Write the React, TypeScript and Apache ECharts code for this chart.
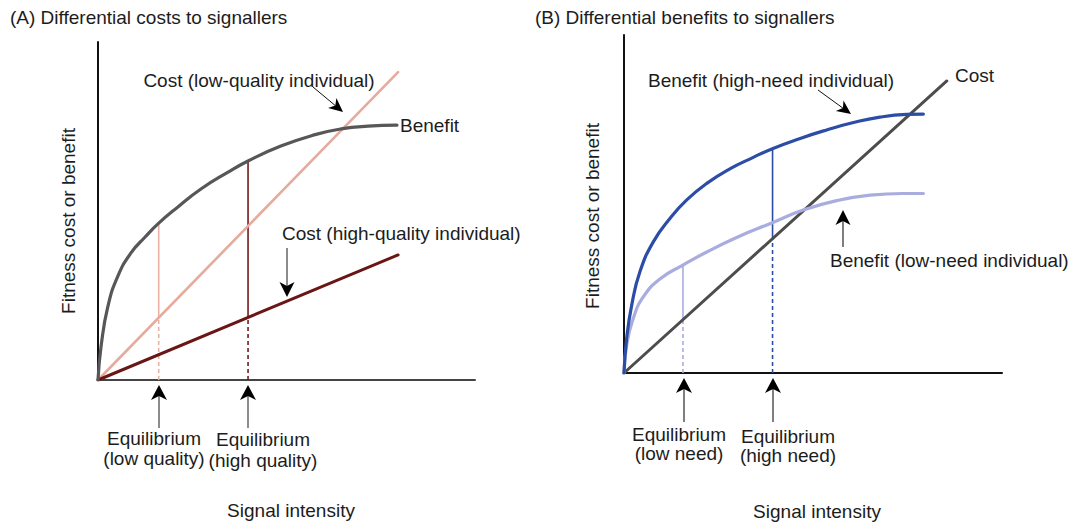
import React, { useEffect, useRef } from "react";
import * as echarts from "echarts";

// ---- Panel A data (signal intensity 0-100, fitness 0-100) ----
const benefitA: number[][] = [
  [0, 0], [0.8, 9.8], [2.65, 21.9], [5.3, 30.8], [8.75, 37.6], [12.5, 42.3], [15.9, 46.2],
  [21.2, 51.2], [27.3, 56.5], [34.5, 61.5], [39.8, 64.8], [48.5, 69.2], [57.6, 72.6],
  [64.5, 74.3], [71.6, 75.1], [79.3, 75.4],
];
const costLowQuality: number[][] = [[0, 0], [79.6, 91.1]];
const costHighQuality: number[][] = [[0, 0], [79.6, 37.0]];
// equilibrium: [signal, cost at signal, benefit at signal]
const eqLowQuality = [16.1, 18.5, 46.3];
const eqHighQuality = [39.8, 18.5, 64.8];

// ---- Panel B data ----
const benefitHighNeed: number[][] = [
  [0, 0], [0.71, 10.3], [2.04, 20.1], [4.23, 30.0], [7.75, 38.8], [12.2, 45.8], [16.6, 51.2],
  [21.9, 56.1], [28.0, 60.4], [34.2, 63.8], [39.1, 66.3], [46.6, 69.4], [53.6, 71.9],
  [60.7, 74.1], [67.7, 75.7], [74.8, 76.5], [79.2, 76.6],
];
const benefitLowNeed: number[][] = [
  [0, 0], [0.71, 8.3], [2.46, 16.2], [5.1, 22.5], [9.5, 27.8], [15.7, 32.0], [21.9, 35.8],
  [29.8, 40.1], [39.1, 44.4], [47.4, 48.2], [56.3, 51.0], [65.1, 52.6], [73.9, 53.1], [79.2, 53.1],
];
const costB: number[][] = [[0, 0], [85.4, 86.4]];
const eqLowNeed = [15.6, 15.8, 32.0];
const eqHighNeed = [39.3, 39.8, 66.4];

const FONT = "Liberation Sans, Arial, Helvetica, sans-serif";
const TXT = "#1c1c1c";

function text(str: string, x: number, y: number, align = "left", extra: any = {}, size = 19) {
  return {
    type: "text",
    x,
    y,
    ...extra,
    style: { text: str, fill: TXT, fontSize: size, fontFamily: FONT, align, verticalAlign: "middle" },
  };
}

function arrow(x1: number, y1: number, x2: number, y2: number, L = 14, w = 7, notch = 4, lineColor = "#333", lw = 1.3) {
  const dx = x2 - x1, dy = y2 - y1;
  const len = Math.hypot(dx, dy);
  const ux = dx / len, uy = dy / len;
  const nx = -uy, ny = ux;
  const bx = x2 - L * ux, by = y2 - L * uy;
  const mx = x2 - (L - notch) * ux, my = y2 - (L - notch) * uy;
  return [
    { type: "line", shape: { x1, y1, x2: mx, y2: my }, style: { stroke: lineColor, lineWidth: lw } },
    {
      type: "polygon",
      shape: { points: [[x2, y2], [bx + w * nx, by + w * ny], [mx, my], [bx - w * nx, by - w * ny]] },
      style: { fill: "#000" },
    },
  ];
}

function eqSeries(eq: number[], idx: number, color: string, w: number) {
  return [
    {
      type: "line", xAxisIndex: idx, yAxisIndex: idx, showSymbol: false, silent: true,
      data: [[eq[0], eq[1]], [eq[0], eq[2]]],
      lineStyle: { color, width: w },
    },
    {
      type: "line", xAxisIndex: idx, yAxisIndex: idx, showSymbol: false, silent: true,
      data: [[eq[0], 0], [eq[0], eq[1]]],
      lineStyle: { color, width: w, type: [4, 3] },
    },
  ];
}

function curve(data: number[][], idx: number, color: string, w: number, smooth = true) {
  return {
    type: "line", xAxisIndex: idx, yAxisIndex: idx, showSymbol: false, silent: true,
    data, smooth: smooth ? 0.5 : false,
    lineStyle: { color, width: w, cap: "round" },
  };
}

export default function App() {
  const ref = useRef<HTMLDivElement>(null);
  useEffect(() => {
    if (!ref.current) return;
    const chart = echarts.init(ref.current, null, { renderer: "svg" });
    const axisX = (gi: number, color: string) => ({
      type: "value", gridIndex: gi, min: 0, max: 100,
      axisLine: { show: true, lineStyle: { color, width: 2 } },
      axisTick: { show: false }, axisLabel: { show: false }, splitLine: { show: false },
    });
    const axisY = (gi: number, color: string) => ({
      type: "value", gridIndex: gi, min: 0, max: 100,
      axisLine: { show: true, lineStyle: { color, width: 2 } },
      axisTick: { show: false }, axisLabel: { show: false }, splitLine: { show: false },
    });
    const graphics: any[] = [
      text("(A) Differential costs to signallers", 10, 17),
      text("(B) Differential benefits to signallers", 535, 17),
      text("Fitness cost or benefit", 68, 221, "center", { rotation: Math.PI / 2 }),
      text("Fitness cost or benefit", 592, 216, "center", { rotation: Math.PI / 2 }),
      text("Signal intensity", 291, 510, "center"),
      text("Signal intensity", 817, 511, "center"),
      text("Cost (low-quality individual)", 259, 80, "center"),
      text("Benefit", 400, 125),
      text("Cost (high-quality individual)", 282, 233),
      text("Equilibrium", 154, 438, "center"),
      text("(low quality)", 154, 458, "center"),
      text("Equilibrium", 263, 439, "center"),
      text("(high quality)", 263, 460, "center"),
      text("Benefit (high-need individual)", 648, 80),
      text("Cost", 955, 75),
      text("Benefit (low-need individual)", 830, 260),
      text("Equilibrium", 679, 434, "center"),
      text("(low need)", 679, 453, "center"),
      text("Equilibrium", 788, 436, "center"),
      text("(high need)", 788, 455, "center"),
      ...arrow(313, 87, 343, 112, 14, 6.5, 4, "#111", 1),
      ...arrow(287, 248, 287, 297, 15, 7.5, 4, "#666", 1.5),
      ...arrow(159, 428, 159, 385, 15, 8, 4, "#666", 1.5),
      ...arrow(248, 428, 248, 385, 15, 8, 4, "#666", 1.5),
      ...arrow(818, 90, 851, 114, 14, 6.5, 4, "#111", 1),
      ...arrow(843, 247, 843, 210, 15, 7.5, 4, "#555", 1.5),
      ...arrow(684, 422, 684, 378, 15, 8, 4, "#555", 1.5),
      ...arrow(773, 422, 773, 378, 15, 8, 4, "#555", 1.5),
    ];
    chart.setOption({
      animation: false,
      grid: [
        { left: 98, top: 42, width: 377, height: 338 },
        { left: 624, top: 35, width: 378, height: 338 },
      ],
      xAxis: [axisX(0, "#444"), axisX(1, "#111")],
      yAxis: [axisY(0, "#111"), axisY(1, "#111")],
      series: [
        ...eqSeries(eqLowQuality, 0, "#e9b0a3", 1.6),
        ...eqSeries(eqHighQuality, 0, "#741a1a", 1.6),
        curve(costLowQuality, 0, "#e6ab9c", 2.6, false),
        curve(costHighQuality, 0, "#6b1616", 3, false),
        curve(benefitA, 0, "#575757", 3.2),
        ...eqSeries(eqLowNeed, 1, "#a9acdf", 1.6),
        ...eqSeries(eqHighNeed, 1, "#2c4da6", 1.6),
        curve(costB, 1, "#4d4d4d", 3, false),
        curve(benefitLowNeed, 1, "#a9acdf", 3.2),
        curve(benefitHighNeed, 1, "#2c4da6", 3.2),
      ],
      graphic: graphics,
    });
    return () => chart.dispose();
  }, []);
  return (
    <div
      ref={ref}
      style={{ position: "fixed", left: 0, top: 0, width: 1072, height: 522, background: "#fff" }}
    />
  );
}
